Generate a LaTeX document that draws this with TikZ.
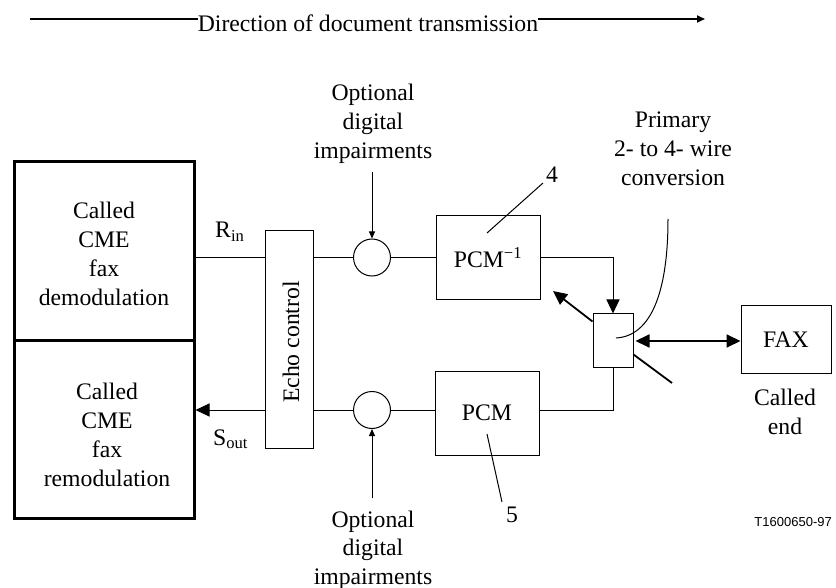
\documentclass[tikz,border=0pt]{standalone}
\usepackage{fontspec}
\setmainfont{Liberation Serif}
\newfontfamily\arialfont{Liberation Sans}
\usetikzlibrary{arrows.meta,calc}
\begin{document}
\begin{tikzpicture}[x=1pt,y=-1pt,
  every node/.style={font=\fontsize{23.7}{29}\selectfont, inner sep=0pt},
  wire/.style={line width=1pt},
  blk/.style={draw, line width=1pt, rectangle, inner sep=0pt},
  bigblk/.style={draw, line width=3pt, rectangle, minimum width=180pt, minimum height=178pt},
  junction/.style={draw, circle, line width=1pt, minimum size=37pt},
  smalltip/.style={-{Triangle[length=7pt,width=6pt]}},
  bigtip/.style={-{Triangle[length=14pt,width=13pt]}},
  dbltip/.style={{Triangle[length=14pt,width=13pt]}-{Triangle[length=14pt,width=13pt]}},
  txt/.style={align=center}
]
\path[use as bounding box] (0,0) rectangle (836,588);

% direction of transmission
\node[anchor=base] (dir) at (368,32) {Direction of document transmission};
\coordinate (dl) at (30,19);
\coordinate (dr) at (705,19);
\draw[line width=1.8pt] (dl) -- (dl -| dir.west);
\draw[line width=1.8pt, -{Triangle[length=8pt,width=7pt]}] (dr -| dir.east) -- (dr);

% CME boxes
\node[bigblk] (demod) at (104,251) {};
\node[bigblk] (remod) at (104,429) {};
\node[txt] (demodtxt) at (104,253.5) {Called\\CME\\fax\\demodulation};
\node[txt] (remodtxt) at (107,435) {Called\\CME\\fax\\remodulation};

% echo control
\node[blk, minimum width=48pt, minimum height=217pt] (echo) at (289,339.5) {};
\node[rotate=90] (echotxt) at (291,342) {Echo control};

% junction circles
\node[junction] (c1) at (372,257.5) {};
\node[junction] (c2) at (372,410) {};

% PCM boxes
\node[blk, minimum width=104pt, minimum height=84pt] (pcmi) at (488,257.5) {PCM\textsuperscript{−1}};
\node[blk, minimum width=104pt, minimum height=84pt] (pcm) at (487,413) {PCM};

% hybrid
\node[blk, minimum width=40pt, minimum height=53pt] (hyb) at (613,340.5) {};

% FAX
\node[blk, minimum width=90pt, minimum height=67pt] (fax) at (786,339.5) {FAX};
\node[txt, anchor=north] (calledend) at (785,389) {Called\\end};

% labels
\node[anchor=base west] (rin) at (215,238) {R\textsubscript{in}};
\node[anchor=base west] (sout) at (213,445) {S\textsubscript{out}};
\node[txt, anchor=north] (opt1) at (373,84) {Optional\\digital\\impairments};
\node[txt, anchor=north, font=\fontsize{23.7}{28.3}\selectfont] (opt2) at (373,511) {Optional\\digital\\impairments};
\node[txt, anchor=north] (prim) at (673,112) {Primary\\2- to 4- wire\\conversion};
\node[anchor=base] (n4) at (552,183) {4};
\node[anchor=base] (n5) at (512,522) {5};
\node[anchor=base east, font=\arialfont\fontsize{13}{15}\selectfont] (ref) at (832,526) {T1600650-97};

% receive path
\draw[wire] (demod.east |- c1) -- (echo.west |- c1);
\draw[wire] (echo.east |- c1) -- (c1.west);
\draw[wire] (c1.east) -- (pcmi.west |- c1);
\draw[wire, bigtip] (pcmi.east) -| (hyb.north);

% send path
\draw[wire] (hyb.south) |- (pcm.east |- c2);
\draw[wire] (pcm.west |- c2) -- (c2.east);
\draw[wire] (c2.west) -- (echo.east |- c2);
\draw[wire, bigtip] (echo.west |- c2) -- (remod.east |- c2);

% impairment inputs
\coordinate (i1) at (372,172);
\coordinate (i2) at (372,498);
\draw[wire, smalltip] (i1) -- (c1.north);
\draw[wire, smalltip] (i2) -- (c2.south);

% hybrid to FAX
\draw[line width=1.8pt, dbltip] ($(hyb.east)+(2,0.5)$) -- (fax.west |- 0,341);

% hybrid side arrows
\coordinate (hul) at (553,291);
\coordinate (hlr) at (672,383);
\draw[line width=1.8pt, bigtip] ($(hyb.north west)+(0,8)$) -- (hul);
\draw[line width=1.8pt] ($(hyb.south east)+(0,-13)$) -- (hlr);

% leader lines
\coordinate (convtop) at (668,219);
\draw[wire] ($(hyb.center)+(3,-2.5)$) .. controls (652,336) and (668,290) .. (convtop);
\draw[wire] (487,233) -- (543,183);
\draw[wire] (487,434) -- (502,502);
\end{tikzpicture}
\end{document}
